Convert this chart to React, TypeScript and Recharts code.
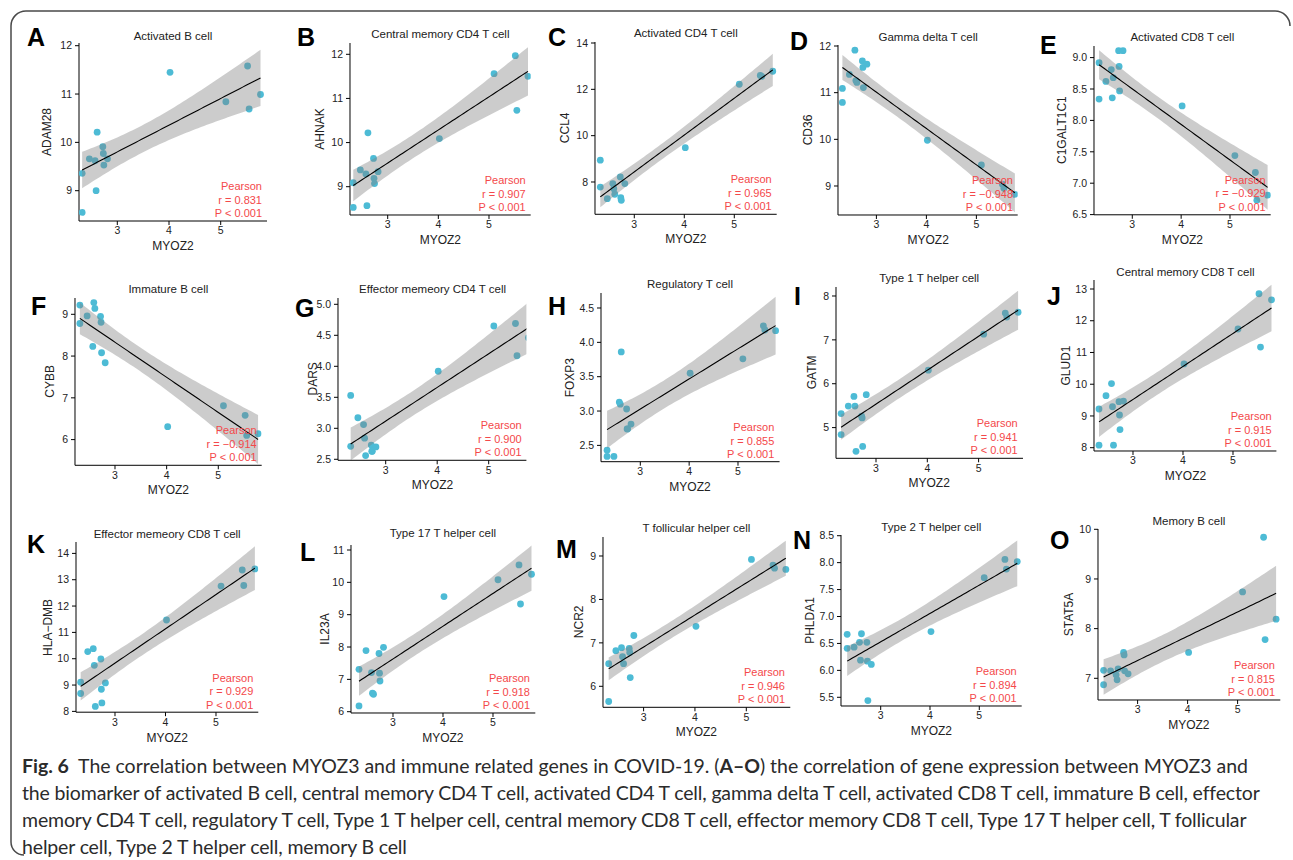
import React from 'react';
import { ComposedChart, Scatter, Area, Line, XAxis, YAxis } from 'recharts';

// MYOZ2 expression of the 15 samples (shared x of every panel)
const MYOZ2 = [2.32, 2.32, 2.46, 2.57, 2.59, 2.61, 2.72, 2.73, 2.74, 2.81, 4.02, 5.1, 5.52, 5.55, 5.77];

// marker gene expression, same sample order
const ADAM28 = [9.36, 8.55, 9.66, 9.62, 9.0, 10.21, 9.91, 9.77, 9.53, 9.66, 11.45, 10.84, 11.58, 10.69, 10.99];
const AHNAK = [9.09, 8.53, 9.38, 9.29, 8.57, 10.22, 9.64, 9.19, 9.07, 9.34, 10.09, 11.56, 11.97, 10.73, 11.5];
const CCL4 = [8.94, 7.78, 7.28, 7.93, 7.71, 7.47, 8.22, 7.32, 7.21, 7.93, 9.48, 12.22, 12.6, 12.56, 12.78];
const CD36 = [11.09, 10.79, 11.39, 11.91, 11.26, 11.22, 11.68, 11.54, 11.11, 11.61, 9.98, 9.45, 9.04, 8.95, 8.82];
const C1GALT1C1 = [8.92, 8.34, 8.62, 8.81, 8.36, 8.68, 9.11, 8.86, 8.47, 9.11, 8.23, 7.44, 7.17, 6.73, 6.81];
const CYBB = [9.22, 8.78, 8.96, 8.23, 9.28, 9.14, 8.95, 8.81, 8.08, 7.84, 6.31, 6.81, 6.58, 6.1, 6.14];
const DARS = [3.53, 2.71, 3.17, 3.06, 2.84, 2.56, 2.73, 2.63, 2.63, 2.7, 3.92, 4.65, 4.69, 4.17, 4.46];
const FOXP3 = [2.43, 2.34, 2.34, 3.13, 3.1, 3.86, 3.03, 2.74, 2.74, 2.81, 3.55, 3.76, 4.24, 4.18, 4.17];
const GATM = [5.32, 4.84, 5.49, 5.71, 5.49, 4.46, 5.26, 5.22, 4.57, 5.75, 6.31, 7.13, 7.61, 7.52, 7.63];
const GLUD1 = [9.22, 8.08, 9.64, 10.02, 9.29, 8.08, 9.45, 9.03, 8.57, 9.47, 10.64, 11.74, 12.85, 11.17, 12.66];
const HLA_DMB = [9.11, 8.68, 10.27, 10.38, 9.75, 8.19, 9.99, 8.84, 8.32, 9.08, 11.47, 12.76, 13.37, 12.78, 13.41];
const IL23A = [7.31, 6.18, 7.89, 7.21, 6.57, 6.54, 7.8, 7.19, 6.95, 7.99, 9.56, 10.08, 10.54, 9.33, 10.25];
const NCR2 = [6.52, 5.65, 6.82, 6.89, 6.68, 6.52, 6.87, 6.78, 6.2, 7.17, 7.38, 8.92, 8.79, 8.72, 8.69];
const PHLDA1 = [6.67, 6.41, 6.43, 6.52, 6.19, 6.68, 6.52, 6.17, 5.44, 6.11, 6.72, 7.72, 8.06, 7.88, 8.02];
const STAT5A = [7.16, 6.87, 7.15, 7.07, 6.97, 7.19, 7.52, 7.47, 7.15, 7.09, 7.52, 8.74, 9.84, 7.78, 8.19];

const X_TICKS = [3, 4, 5];

const PANELS = [
  { key: 'A', title: 'Activated B cell', gene: 'ADAM28', values: ADAM28, r: '0.831', yTicks: [9, 10, 11, 12] },
  { key: 'B', title: 'Central memory CD4 T cell', gene: 'AHNAK', values: AHNAK, r: '0.907', yTicks: [9, 10, 11, 12] },
  { key: 'C', title: 'Activated CD4 T cell', gene: 'CCL4', values: CCL4, r: '0.965', yTicks: [8, 10, 12, 14] },
  { key: 'D', title: 'Gamma delta T cell', gene: 'CD36', values: CD36, r: '\u22120.948', yTicks: [9, 10, 11, 12] },
  { key: 'E', title: 'Activated CD8 T cell', gene: 'C1GALT1C1', values: C1GALT1C1, r: '\u22120.929', yTicks: [6.5, 7, 7.5, 8, 8.5, 9], oneDecimal: true },
  { key: 'F', title: 'Immature  B cell', gene: 'CYBB', values: CYBB, r: '\u22120.914', yTicks: [6, 7, 8, 9] },
  { key: 'G', title: 'Effector memeory CD4 T cell', gene: 'DARS', values: DARS, r: '0.900', yTicks: [2.5, 3, 3.5, 4, 4.5, 5], oneDecimal: true },
  { key: 'H', title: 'Regulatory T cell', gene: 'FOXP3', values: FOXP3, r: '0.855', yTicks: [2.5, 3, 3.5, 4, 4.5], oneDecimal: true },
  { key: 'I', title: 'Type 1 T helper cell', gene: 'GATM', values: GATM, r: '0.941', yTicks: [5, 6, 7, 8] },
  { key: 'J', title: 'Central memory CD8 T cell', gene: 'GLUD1', values: GLUD1, r: '0.915', yTicks: [8, 9, 10, 11, 12, 13] },
  { key: 'K', title: 'Effector memeory CD8 T cell', gene: 'HLA\u2212DMB', values: HLA_DMB, r: '0.929', yTicks: [8, 9, 10, 11, 12, 13, 14] },
  { key: 'L', title: 'Type 17 T helper cell', gene: 'IL23A', values: IL23A, r: '0.918', yTicks: [6, 7, 8, 9, 10, 11] },
  { key: 'M', title: 'T follicular helper cell', gene: 'NCR2', values: NCR2, r: '0.946', yTicks: [6, 7, 8, 9] },
  { key: 'N', title: 'Type 2 T helper cell', gene: 'PHLDA1', values: PHLDA1, r: '0.894', yTicks: [5.5, 6, 6.5, 7, 7.5, 8, 8.5], oneDecimal: true },
  { key: 'O', title: 'Memory B cell', gene: 'STAT5A', values: STAT5A, r: '0.815', yTicks: [7, 8, 9, 10] },
];

// page layout of each panel: plot box, tick calibration, text anchors
const LAYOUT = [
  { l: 79, t: 43, r: 267, b: 221, x3: 117.3, x5: 220.7, yHi: [12, 45.7], yLo: [9, 190.7], titleY: 36, labX: 47, keyX: 27, keyY: 37 },
  { l: 350, t: 43, r: 530.7, b: 215, x3: 387.7, x5: 489, yHi: [12, 54.3], yLo: [9, 186.7], titleY: 34, labX: 320, keyX: 297, keyY: 37 },
  { l: 595, t: 41.7, r: 776.7, b: 214, x3: 634.3, x5: 734.3, yHi: [14, 42.7], yLo: [8, 181.7], titleY: 33, labX: 565, keyX: 548, keyY: 37 },
  { l: 838.3, t: 45, r: 1018, b: 215, x3: 876.7, x5: 976.7, yHi: [12, 46], yLo: [9, 186], titleY: 37, labX: 808, keyX: 790, keyY: 41 },
  { l: 1094, t: 45.7, r: 1270.7, b: 214.5, x3: 1132.3, x5: 1230, yHi: [9, 57.3], yLo: [6.5, 214.3], titleY: 37, labX: 1062, keyX: 1040, keyY: 45 },
  { l: 75, t: 297.7, r: 261.7, b: 465, x3: 115, x5: 218.3, yHi: [9, 314], yLo: [6, 439.3], titleY: 289, labX: 50, keyX: 31, keyY: 306 },
  { l: 338.3, t: 297.7, r: 526.7, b: 460, x3: 386, x5: 489, yHi: [5, 304], yLo: [2.5, 459], titleY: 289, labX: 313, keyX: 295, keyY: 308 },
  { l: 600.7, t: 293.3, r: 779.3, b: 462, x3: 640, x5: 737.7, yHi: [4.5, 308.3], yLo: [2.5, 445.7], titleY: 284, labX: 570, keyX: 548, keyY: 306 },
  { l: 835.7, t: 286.7, r: 1022.7, b: 458, x3: 875.7, x5: 978.3, yHi: [8, 295.7], yLo: [5, 427.3], titleY: 278, labX: 811.7, keyX: 794, keyY: 296 },
  { l: 1094.3, t: 280, r: 1276.7, b: 451, x3: 1133.3, x5: 1233.3, yHi: [13, 289], yLo: [8, 447.7], titleY: 272, labX: 1065.7, keyX: 1047, keyY: 296 },
  { l: 76, t: 542.3, r: 258.3, b: 712.5, x3: 115, x5: 216, yHi: [14, 553.7], yLo: [8, 711.7], titleY: 534, labX: 47.7, keyX: 27, keyY: 544 },
  { l: 350.7, t: 545, r: 535, b: 713, x3: 392.7, x5: 492.7, yHi: [11, 550], yLo: [6, 711.7], titleY: 533, labX: 325, keyX: 300, keyY: 552 },
  { l: 602.7, t: 536.7, r: 790, b: 707, x3: 643.3, x5: 746, yHi: [9, 555.7], yLo: [6, 686], titleY: 528, labX: 579, keyX: 556, keyY: 549 },
  { l: 841, t: 535, r: 1021.7, b: 706, x3: 880.7, x5: 979.3, yHi: [8.5, 535.7], yLo: [5.5, 697.3], titleY: 527, labX: 810, keyX: 793, keyY: 540 },
  { l: 1097.7, t: 529, r: 1280, b: 700, x3: 1137.3, x5: 1237.3, yHi: [10, 529.3], yLo: [7, 678.3], titleY: 521, labX: 1069, keyX: 1050, keyY: 540 },
];

const FONT = '"Liberation Sans", Arial, sans-serif';
const CAPTION_FONT = 'Lato, "Open Sans", sans-serif';
const YW = 60;
const MT = 6;
const MR = 6;
const XH = 30;
const T_975_DF13 = 2.160;

// linear model fit with 95% confidence band, like geom_smooth(method = "lm")
function lmFit(xs: number[], ys: number[]) {
  const n = xs.length;
  const mx = xs.reduce((s, v) => s + v, 0) / n;
  const my = ys.reduce((s, v) => s + v, 0) / n;
  let sxx = 0;
  let sxy = 0;
  xs.forEach((x, i) => {
    sxx += (x - mx) ** 2;
    sxy += (x - mx) * (ys[i] - my);
  });
  const slope = sxy / sxx;
  const icpt = my - slope * mx;
  let sse = 0;
  xs.forEach((x, i) => {
    sse += (ys[i] - (icpt + slope * x)) ** 2;
  });
  const s = Math.sqrt(sse / (n - 2));
  const lo = Math.min(...xs);
  const hi = Math.max(...xs);
  const out = [];
  for (let i = 0; i <= 60; i++) {
    const x = lo + ((hi - lo) * i) / 60;
    const fit = icpt + slope * x;
    const se = s * Math.sqrt(1 / n + (x - mx) ** 2 / sxx);
    out.push({ x, fit, band: [fit - T_975_DF13 * se, fit + T_975_DF13 * se] });
  }
  return out;
}

const Dot = (props: any) => <circle cx={props.cx} cy={props.cy} r={3.4} fill="#4DBBD5" />;

function Panel({ def, box }: { def: any; box: any }) {
  const pxX = (box.x5 - box.x3) / 2;
  const xDomain = [3 - (box.x3 - box.l) / pxX, 5 + (box.r - box.x5) / pxX];
  const pxY = (box.yLo[1] - box.yHi[1]) / (box.yHi[0] - box.yLo[0]);
  const yDomain = [box.yLo[0] - (box.b - box.yLo[1]) / pxY, box.yHi[0] + (box.yHi[1] - box.t) / pxY];
  const points = MYOZ2.map((x, i) => ({ x, y: def.values[i] }));
  const smooth = lmFit(MYOZ2, def.values);
  const fmt = def.oneDecimal ? (v: number) => v.toFixed(1) : (v: number) => String(v);
  const tick = { fontSize: 10.5, fill: '#222', fontFamily: FONT };
  const width = box.r - box.l + YW + MR;
  const height = box.b - box.t + MT + XH;
  return (
    <div style={{ position: 'absolute', left: box.l - YW, top: box.t - MT, width, height }}>
      {/* axes and points */}
      <ComposedChart width={width} height={height} margin={{ top: MT, right: MR, bottom: 0, left: 0 }}>
        <XAxis
          type="number"
          dataKey="x"
          domain={xDomain}
          ticks={X_TICKS}
          allowDataOverflow
          height={XH}
          tick={tick}
          tickSize={4}
          tickMargin={2}
          axisLine={{ stroke: '#000', strokeWidth: 1 }}
          tickLine={{ stroke: '#000' }}
        />
        <YAxis
          type="number"
          dataKey="y"
          domain={yDomain}
          ticks={def.yTicks}
          allowDataOverflow
          width={YW}
          tickFormatter={fmt}
          tick={tick}
          tickSize={4}
          tickMargin={3}
          axisLine={{ stroke: '#000', strokeWidth: 1 }}
          tickLine={{ stroke: '#000' }}
        />
        <Scatter data={points} dataKey="y" shape={Dot} isAnimationActive={false} />
      </ComposedChart>
      {/* lm fit and its confidence band, drawn over the points as in ggplot */}
      <div style={{ position: 'absolute', left: 0, top: 0, pointerEvents: 'none' }}>
        <ComposedChart width={width} height={height} margin={{ top: MT, right: MR, bottom: XH, left: YW }}>
          <XAxis type="number" dataKey="x" domain={xDomain} allowDataOverflow hide />
          <YAxis type="number" domain={yDomain} allowDataOverflow hide />
          <Area
            data={smooth}
            dataKey="band"
            type="linear"
            stroke="none"
            fill="#7f7f7f"
            fillOpacity={0.4}
            dot={false}
            activeDot={false}
            isAnimationActive={false}
          />
          <Line
            data={smooth}
            dataKey="fit"
            type="linear"
            stroke="#000"
            strokeWidth={1.1}
            dot={false}
            activeDot={false}
            isAnimationActive={false}
          />
        </ComposedChart>
      </div>
    </div>
  );
}

function Overlay() {
  const red = '#F4484A';
  return (
    <svg width={1293} height={860} style={{ position: 'absolute', left: 0, top: 0, pointerEvents: 'none' }}>
      <path
        d="M 1290 26 A 15 15 0 0 0 1275 11 L 26 11 A 15 15 0 0 0 11 26 L 11 842 A 13 13 0 0 0 24 855"
        fill="none"
        stroke="#4a4a4a"
        strokeWidth={1.5}
      />
      {PANELS.map((p, i) => {
        const b = LAYOUT[i];
        const cx = (b.l + b.r) / 2;
        const cy = (b.t + b.b) / 2;
        return (
          <g key={p.key} fontFamily={FONT}>
            <text x={b.keyX} y={b.keyY + 9} fontSize={25} fontWeight={700} fill="#000">{p.key}</text>
            <text x={cx} y={b.titleY} fontSize={11.5} fill="#222" textAnchor="middle" dominantBaseline="central">{p.title}</text>
            <text
              transform={`translate(${b.labX},${cy}) rotate(-90)`}
              fontSize={12}
              fill="#222"
              textAnchor="middle"
              dominantBaseline="central"
            >
              {p.gene}
            </text>
            <text x={cx} y={b.b + 25} fontSize={12} fill="#222" textAnchor="middle" dominantBaseline="central">MYOZ2</text>
            <g fontSize={11} fill={red} textAnchor="end">
              <text x={b.r - 5} y={b.b - 35} dominantBaseline="central">Pearson</text>
              <text x={b.r - 5} y={b.b - 21.5} dominantBaseline="central">{`r = ${p.r}`}</text>
              <text x={b.r - 5} y={b.b - 8} dominantBaseline="central">P &lt; 0.001</text>
            </g>
          </g>
        );
      })}
    </svg>
  );
}

const captionLine: React.CSSProperties = {
  position: 'absolute',
  left: 22,
  whiteSpace: 'nowrap',
  fontFamily: CAPTION_FONT,
  fontSize: 19.5,
  lineHeight: '27px',
  color: '#2b2b2b',
  letterSpacing: -0.15,
};

function Caption() {
  return (
    <div>
      <div style={{ ...captionLine, top: 752, letterSpacing: -0.03 }}>
        <b>Fig. 6</b>&nbsp; The correlation between MYOZ3 and immune related genes in COVID-19. (<b>A–O</b>) the correlation of gene expression between MYOZ3 and
      </div>
      <div style={{ ...captionLine, top: 779 }}>
        the biomarker of activated B cell, central memory CD4 T cell, activated CD4 T cell, gamma delta T cell, activated CD8 T cell, immature B cell, effector
      </div>
      <div style={{ ...captionLine, top: 806 }}>
        memory CD4 T cell, regulatory T cell, Type 1 T helper cell, central memory CD8 T cell, effector memory CD8 T cell, Type 17 T helper cell, T follicular
      </div>
      <div style={{ ...captionLine, top: 833 }}>helper cell, Type 2 T helper cell, memory B cell</div>
    </div>
  );
}

export default function App() {
  return (
    <div style={{ position: 'absolute', left: 0, top: 0, width: 1293, height: 860, background: '#fff', overflow: 'hidden' }}>
      {PANELS.map((p, i) => (
        <Panel key={p.key} def={p} box={LAYOUT[i]} />
      ))}
      <Overlay />
      <Caption />
    </div>
  );
}
